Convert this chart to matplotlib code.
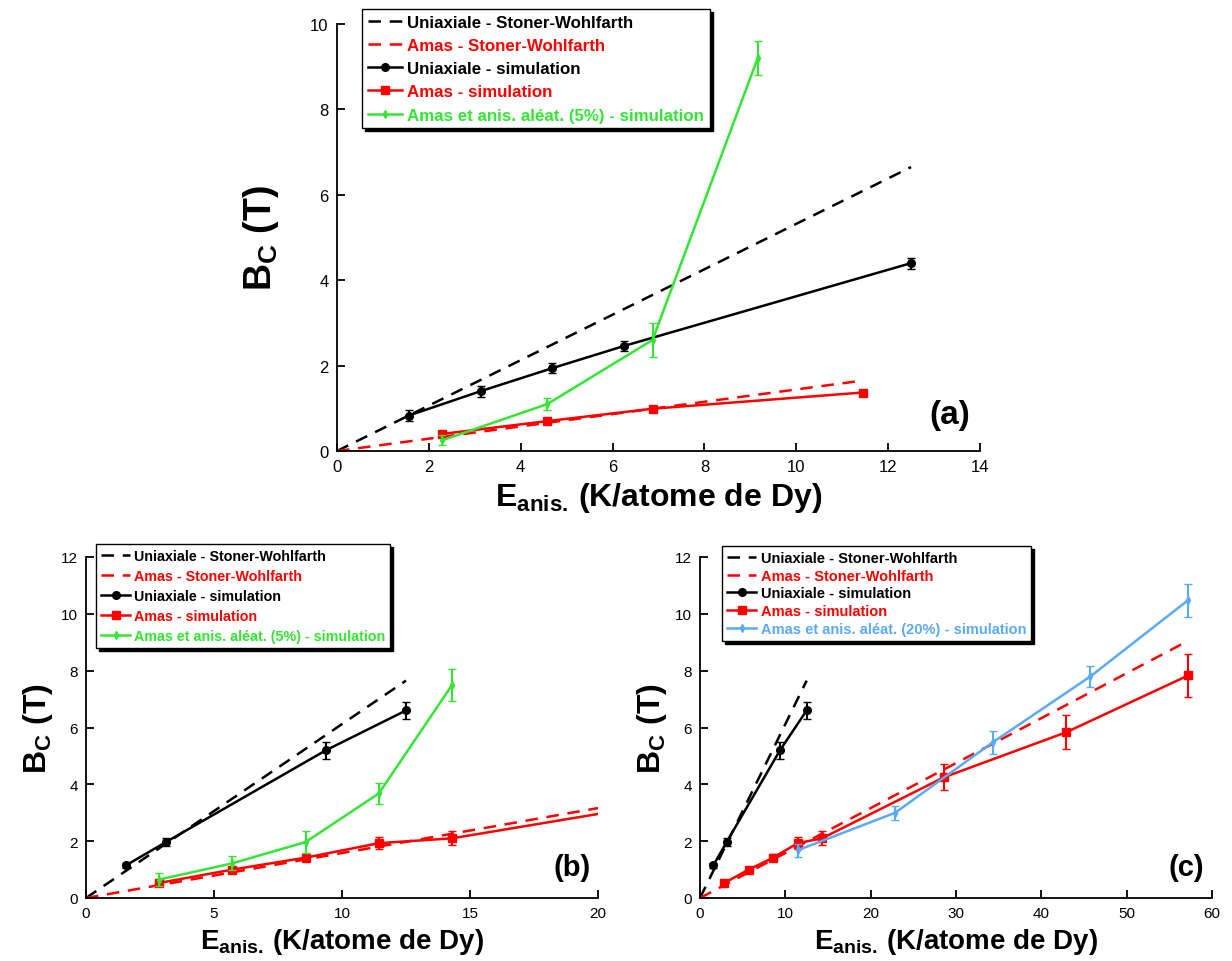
# -*- coding: utf-8 -*-
import matplotlib
matplotlib.use('Agg')
import matplotlib.pyplot as plt

plt.rcParams['font.family'] = ['Liberation Sans', 'DejaVu Sans']
plt.rcParams['mathtext.fontset'] = 'custom'
plt.rcParams['mathtext.bf'] = 'Liberation Sans:bold'
plt.rcParams['mathtext.rm'] = 'Liberation Sans:bold'
################################################################################
# (a)
uni_a_x = [1.5625, 3.125, 4.6875, 6.25, 12.5]
uni_a_y = [0.83, 1.40, 1.94, 2.46, 4.40]
uni_a_err = [0.12, 0.13, 0.12, 0.12, 0.13]
amas_a_x = [2.29, 4.58, 6.87, 11.45]
amas_a_y = [0.40, 0.70, 0.99, 1.37]
amas_a_err = [0.05, 0.05, 0.05, 0.05]
alea_a_x = [2.29, 4.58, 6.87, 9.16]
alea_a_y = [0.25, 1.10, 2.60, 9.20]
alea_a_err = [0.12, 0.15, 0.40, 0.40]
sw_uni_a_x = [0, 12.5]
sw_uni_a_y = [0, 6.65]
sw_amas_a_x = [0, 11.45]
sw_amas_a_y = [0, 1.65]

# (b) et (c)
uni_b_x = [1.5625, 3.125, 9.375, 12.5]
uni_b_y = [1.15, 1.97, 5.20, 6.60]
uni_b_err = [0.08, 0.15, 0.30, 0.30]
amas_b_x = [2.86, 5.72, 8.58, 11.44, 14.3, 28.6, 42.9, 57.2]
amas_b_y = [0.53, 1.00, 1.42, 1.93, 2.10, 4.25, 5.83, 7.83]
amas_b_err = [0.08, 0.10, 0.12, 0.20, 0.25, 0.45, 0.60, 0.75]
alea5_x = [2.86, 5.72, 8.58, 11.44, 14.3]
alea5_y = [0.65, 1.22, 1.97, 3.68, 7.50]
alea5_err = [0.22, 0.25, 0.40, 0.38, 0.55]
alea20_x = [11.44, 22.88, 34.32, 45.76, 57.2]
alea20_y = [1.68, 3.00, 5.48, 7.80, 10.48]
alea20_err = [0.22, 0.25, 0.40, 0.38, 0.58]
sw_uni_b_x = [0, 12.5]
sw_uni_b_y = [0, 7.65]
sw_amas_b_x = [0, 57.2]
sw_amas_b_y = [0, 9.05]

green = '#33e633'
blue = '#5aaaf5'
################################################################################


def panel(ax, uni, amas, alea, sw_uni, sw_amas, alea_label, alea_color,
          xmax, ymax, xstep, ystep, tag, fs_tick, fs_xlab, fs_ylab, fs_leg, leg_xy, leg_space):
    ax.plot(sw_uni[0], sw_uni[1], '--', color='k', lw=1.8, dashes=(5, 3.5),
            label='Uniaxiale - Stoner-Wohlfarth')
    ax.plot(sw_amas[0], sw_amas[1], '--', color='red', lw=1.8, dashes=(5, 3.5),
            label='Amas - Stoner-Wohlfarth')
    ax.errorbar(uni[0], uni[1], yerr=uni[2], fmt='none', ecolor='k', elinewidth=1.5, capsize=3)
    ax.plot(uni[0], uni[1], '-o', color='k', lw=1.8, ms=5.5, label='Uniaxiale - simulation')
    ax.errorbar(amas[0], amas[1], yerr=amas[2], fmt='none', ecolor='red', elinewidth=1.5, capsize=3)
    ax.plot(amas[0], amas[1], '-s', color='red', lw=1.8, ms=5.5, label='Amas - simulation')
    ax.errorbar(alea[0], alea[1], yerr=alea[2], fmt='none', ecolor=alea_color, elinewidth=1.5, capsize=3)
    ax.plot(alea[0], alea[1], '-d', color=alea_color, lw=1.8, ms=4, label=alea_label)

    ax.set_xlim(0, xmax)
    ax.set_ylim(0, ymax)
    ax.set_xticks(range(0, xmax + 1, xstep))
    ax.set_yticks(range(0, ymax + 1, ystep))
    ax.spines['top'].set_visible(False)
    ax.spines['right'].set_visible(False)
    ax.spines['left'].set_linewidth(1.3)
    ax.spines['bottom'].set_linewidth(1.3)
    ax.tick_params(direction='in', length=6, width=1.3, labelsize=fs_tick, pad=6)

    ax.set_xlabel(r'E$_{\mathbf{anis.}}\,$(K/atome de Dy)', fontsize=fs_xlab, fontweight='bold',
                  labelpad=4)
    ax.set_ylabel(r'B$_{\mathbf{C}}$ (T)', fontsize=fs_ylab, fontweight='bold')
    ax.text(0.985, 0.05, tag, transform=ax.transAxes, ha='right', va='bottom',
            fontsize=fs_xlab + 1, fontweight='bold')

    leg = ax.legend(loc='upper left', bbox_to_anchor=leg_xy, borderaxespad=0,
                    prop={'weight': 'bold', 'size': fs_leg}, labelcolor='linecolor',
                    fancybox=False, shadow={'color': 'k', 'alpha': 1.0},
                    handlelength=2.0, handletextpad=0.3, labelspacing=leg_space,
                    borderpad=0.35, framealpha=1)
    leg.get_frame().set_edgecolor('k')
    leg.get_frame().set_linewidth(1.0)
    return leg


fig = plt.figure(figsize=(12.32, 9.62), dpi=100)
ax_a = fig.add_axes([337 / 1232, 1 - 452 / 962, 643 / 1232, 427 / 962])
ax_b = fig.add_axes([86 / 1232, 1 - 899 / 962, 512 / 1232, 341 / 962])
ax_c = fig.add_axes([700 / 1232, 1 - 899 / 962, 512 / 1232, 341 / 962])

panel(ax_a, (uni_a_x, uni_a_y, uni_a_err), (amas_a_x, amas_a_y, amas_a_err),
      (alea_a_x, alea_a_y, alea_a_err), (sw_uni_a_x, sw_uni_a_y), (sw_amas_a_x, sw_amas_a_y),
      'Amas et anis. aléat. (5%) - simulation', green,
      14, 10, 2, 2, '(a)', 12, 23, 27, 12.2, (0.039, 1.035), 0.48)
ax_a.yaxis.labelpad = 21

panel(ax_b, (uni_b_x, uni_b_y, uni_b_err), (amas_b_x, amas_b_y, amas_b_err),
      (alea5_x, alea5_y, alea5_err), (sw_uni_b_x, sw_uni_b_y), (sw_amas_b_x, sw_amas_b_y),
      'Amas et anis. aléat. (5%) - simulation', green,
      20, 12, 5, 2, '(b)', 11, 20, 23, 10.3, (0.02, 1.038), 0.42)

panel(ax_c, (uni_b_x, uni_b_y, uni_b_err), (amas_b_x, amas_b_y, amas_b_err),
      (alea20_x, alea20_y, alea20_err), (sw_uni_b_x, sw_uni_b_y), (sw_amas_b_x, sw_amas_b_y),
      'Amas et anis. aléat. (20%) - simulation', blue,
      60, 12, 10, 2, '(c)', 11, 20, 23, 10.5, (0.043, 1.032), 0.25)

plt.savefig('out.png', dpi=100)
plt.clf()
